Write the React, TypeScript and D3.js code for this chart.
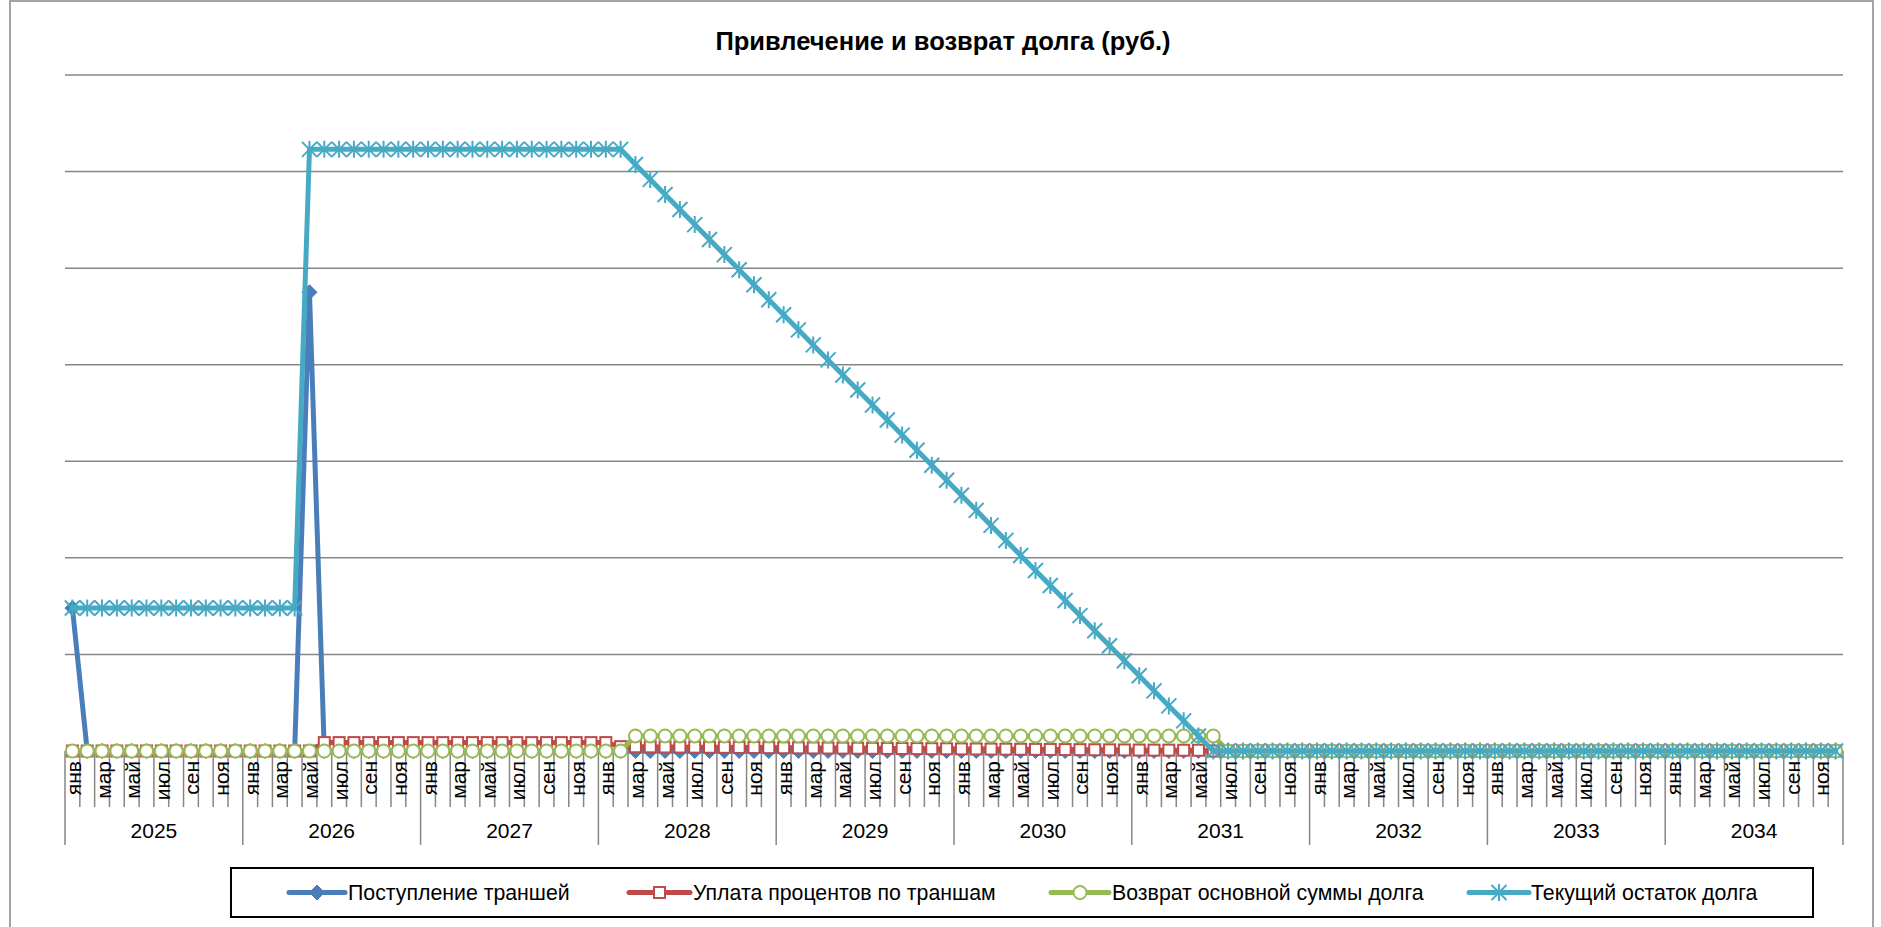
import React from 'react';
import * as d3 from 'd3';

const TITLE = 'Привлечение и возврат долга (руб.)';
const YEARS = ['2025', '2026', '2027', '2028', '2029', '2030', '2031', '2032', '2033', '2034'];
const MONTHS = ['янв', 'фев', 'мар', 'апр', 'май', 'июн', 'июл', 'авг', 'сен', 'окт', 'ноя', 'дек'];
const Y_TICKS = [0, 1, 2, 3, 4, 5, 6, 7];

// values per year (12 months each), axis value labels are hidden in the original
const TRANCHES = [
  [1.48, 0, 0, 0, 0, 0, 0, 0, 0, 0, 0, 0],
  [0, 0, 0, 0, 4.75, 0, 0, 0, 0, 0, 0, 0],
  [0, 0, 0, 0, 0, 0, 0, 0, 0, 0, 0, 0],
  [0, 0, 0, 0, 0, 0, 0, 0, 0, 0, 0, 0],
  [0, 0, 0, 0, 0, 0, 0, 0, 0, 0, 0, 0],
  [0, 0, 0, 0, 0, 0, 0, 0, 0, 0, 0, 0],
  [0, 0, 0, 0, 0, 0, 0, 0, 0, 0, 0, 0],
  [0, 0, 0, 0, 0, 0, 0, 0, 0, 0, 0, 0],
  [0, 0, 0, 0, 0, 0, 0, 0, 0, 0, 0, 0],
  [0, 0, 0, 0, 0, 0, 0, 0, 0, 0, 0, 0],
];

const INTEREST = [
  [0, 0, 0, 0, 0, 0, 0, 0, 0, 0, 0, 0],
  [0, 0, 0, 0, 0, 0.087, 0.087, 0.087, 0.087, 0.087, 0.087, 0.087],
  [0.087, 0.087, 0.087, 0.087, 0.087, 0.087, 0.087, 0.087, 0.087, 0.087, 0.087, 0.087],
  [0.087, 0.045, 0.044, 0.043, 0.042, 0.041, 0.040, 0.039, 0.038, 0.037, 0.036, 0.035],
  [0.034, 0.033, 0.032, 0.031, 0.030, 0.029, 0.028, 0.027, 0.026, 0.025, 0.024, 0.023],
  [0.022, 0.021, 0.020, 0.019, 0.018, 0.017, 0.016, 0.015, 0.014, 0.013, 0.012, 0.011],
  [0.010, 0.009, 0.009, 0.008, 0.008, 0, 0, 0, 0, 0, 0, 0],
  [0, 0, 0, 0, 0, 0, 0, 0, 0, 0, 0, 0],
  [0, 0, 0, 0, 0, 0, 0, 0, 0, 0, 0, 0],
  [0, 0, 0, 0, 0, 0, 0, 0, 0, 0, 0, 0],
];

const PRINCIPAL = [
  [0, 0, 0, 0, 0, 0, 0, 0, 0, 0, 0, 0],
  [0, 0, 0, 0, 0, 0, 0, 0, 0, 0, 0, 0],
  [0, 0, 0, 0, 0, 0, 0, 0, 0, 0, 0, 0],
  [0, 0, 0.156, 0.156, 0.156, 0.156, 0.156, 0.156, 0.156, 0.156, 0.156, 0.156],
  [0.156, 0.156, 0.156, 0.156, 0.156, 0.156, 0.156, 0.156, 0.156, 0.156, 0.156, 0.156],
  [0.156, 0.156, 0.156, 0.156, 0.156, 0.156, 0.156, 0.156, 0.156, 0.156, 0.156, 0.156],
  [0.156, 0.156, 0.156, 0.156, 0.156, 0.156, 0, 0, 0, 0, 0, 0],
  [0, 0, 0, 0, 0, 0, 0, 0, 0, 0, 0, 0],
  [0, 0, 0, 0, 0, 0, 0, 0, 0, 0, 0, 0],
  [0, 0, 0, 0, 0, 0, 0, 0, 0, 0, 0, 0],
];

const BALANCE = [
  [1.48, 1.48, 1.48, 1.48, 1.48, 1.48, 1.48, 1.48, 1.48, 1.48, 1.48, 1.48],
  [1.48, 1.48, 1.48, 1.48, 6.23, 6.23, 6.23, 6.23, 6.23, 6.23, 6.23, 6.23],
  [6.23, 6.23, 6.23, 6.23, 6.23, 6.23, 6.23, 6.23, 6.23, 6.23, 6.23, 6.23],
  [6.23, 6.23, 6.074, 5.919, 5.763, 5.607, 5.451, 5.296, 5.140, 4.984, 4.828, 4.673],
  [4.517, 4.361, 4.205, 4.050, 3.894, 3.738, 3.582, 3.427, 3.271, 3.115, 2.959, 2.804],
  [2.648, 2.492, 2.336, 2.181, 2.025, 1.869, 1.713, 1.558, 1.402, 1.246, 1.090, 0.935],
  [0.779, 0.623, 0.467, 0.312, 0.156, 0, 0, 0, 0, 0, 0, 0],
  [0, 0, 0, 0, 0, 0, 0, 0, 0, 0, 0, 0],
  [0, 0, 0, 0, 0, 0, 0, 0, 0, 0, 0, 0],
  [0, 0, 0, 0, 0, 0, 0, 0, 0, 0, 0, 0],
];

const SERIES_NAMES = [
  'Поступление траншей',
  'Уплата процентов по траншам',
  'Возврат основной суммы долга',
  'Текущий остаток долга',
];

const FONT = '"Liberation Sans", Arial, sans-serif';
const W = 1881;
const H = 927;
const PLOT = { left: 65, right: 1843, top: 75, bottom: 751 };
const GRID = '#868686';

const STYLES = [
  { color: '#4A7EBB', marker: 'diamond' },
  { color: '#BE4B48', marker: 'square' },
  { color: '#98B954', marker: 'circle' },
  { color: '#46AAC5', marker: 'star' },
];

const LEGEND_POS = [
  { x1: 289, x2: 345, tx: 348 },
  { x1: 629, x2: 690, tx: 693 },
  { x1: 1051, x2: 1109, tx: 1112 },
  { x1: 1469, x2: 1529, tx: 1531 },
];

function Marker({ type, color, x, y }: { type: string; color: string; x: number; y: number }) {
  if (type === 'diamond') {
    return <path d="M0,-7.5L7.5,0L0,7.5L-7.5,0Z" transform={`translate(${x},${y})`} fill={color} stroke={color} strokeWidth={1} />;
  }
  if (type === 'square') {
    return <rect x={x - 5.5} y={y - 5.5} width={11} height={11} fill="#fff" stroke={color} strokeWidth={2} />;
  }
  if (type === 'circle') {
    return <circle cx={x} cy={y} r={6.5} fill="#fff" stroke={color} strokeWidth={2} />;
  }
  return (
    <path
      d="M-7.5,-7.5L7.5,7.5M-7.5,7.5L7.5,-7.5M0,-8.5L0,8.5"
      transform={`translate(${x},${y})`}
      fill="none"
      stroke={color}
      strokeWidth={2}
    />
  );
}

export default function App() {
  const data = [TRANCHES.flat(), INTEREST.flat(), PRINCIPAL.flat(), BALANCE.flat()];
  const n = data[0].length;
  const idx = d3.range(n);
  const x = d3.scaleBand<number>().domain(idx).range([PLOT.left, PLOT.right]).padding(0);
  const bw = x.bandwidth();
  const cx = (i: number) => (x(i) as number) + bw / 2;
  const y = d3.scaleLinear().domain([0, 7]).range([PLOT.bottom, PLOT.top]);
  const line = d3
    .line<number>()
    .x((_, i) => cx(i))
    .y((v) => y(v));

  const yearBand = d3.scaleBand<string>().domain(YEARS).range([PLOT.left, PLOT.right]);

  return (
    <svg
      width={W}
      height={H}
      style={{ position: 'absolute', left: 0, top: 0, display: 'block', background: '#fff' }}
      fontFamily={FONT}
    >
      <rect x={0} y={0} width={W} height={H} fill="#fff" />
      {/* outer chart frame */}
      <rect x={10} y={1} width={1863} height={H + 20} fill="none" stroke={GRID} strokeWidth={1.5} />

      <text x={943} y={50} textAnchor="middle" fontSize={25.5} fontWeight="bold" fill="#000">
        {TITLE}
      </text>

      {/* gridlines */}
      {Y_TICKS.map((t) => (
        <line key={t} x1={PLOT.left} x2={PLOT.right} y1={y(t)} y2={y(t)} stroke={GRID} strokeWidth={1.5} />
      ))}

      {/* category axis ticks */}
      {d3.range(n + 1).map((i) => {
        const xx = PLOT.left + i * bw;
        const isYear = i % 12 === 0;
        return (
          <line
            key={'t' + i}
            x1={xx}
            x2={xx}
            y1={PLOT.bottom}
            y2={isYear ? 845 : 807}
            stroke={GRID}
            strokeWidth={1.5}
          />
        );
      })}

      {/* month labels */}
      {idx
        .filter((i) => i % 2 === 0)
        .map((i) => (
          <text
            key={'m' + i}
            transform={`translate(${cx(i) + 8.5},761) rotate(-90)`}
            textAnchor="end"
            fontSize={21}
            fill="#000"
          >
            {MONTHS[i % 12]}
          </text>
        ))}

      {/* year labels */}
      {YEARS.map((yr) => (
        <text
          key={yr}
          x={(yearBand(yr) as number) + yearBand.bandwidth() / 2}
          y={838}
          textAnchor="middle"
          fontSize={21}
          fill="#000"
        >
          {yr}
        </text>
      ))}

      {/* series */}
      {data.map((vals, s) => (
        <g key={'s' + s}>
          <path d={line(vals) || ''} fill="none" stroke={STYLES[s].color} strokeWidth={5} strokeLinejoin="round" strokeLinecap="round" />
          {vals.map((v, i) => (
            <Marker key={i} type={STYLES[s].marker} color={STYLES[s].color} x={cx(i)} y={y(v)} />
          ))}
        </g>
      ))}

      {/* legend */}
      <rect x={231} y={868} width={1582} height={49} fill="#fff" stroke="#000" strokeWidth={2} />
      {SERIES_NAMES.map((name, s) => {
        const p = LEGEND_POS[s];
        const ly = 892.5;
        return (
          <g key={'l' + s}>
            <line x1={p.x1} x2={p.x2} y1={ly} y2={ly} stroke={STYLES[s].color} strokeWidth={5} strokeLinecap="round" />
            <Marker type={STYLES[s].marker} color={STYLES[s].color} x={(p.x1 + p.x2) / 2} y={ly} />
            <text x={p.tx} y={ly + 7.5} fontSize={21.3} fill="#000">
              {name}
            </text>
          </g>
        );
      })}
    </svg>
  );
}
